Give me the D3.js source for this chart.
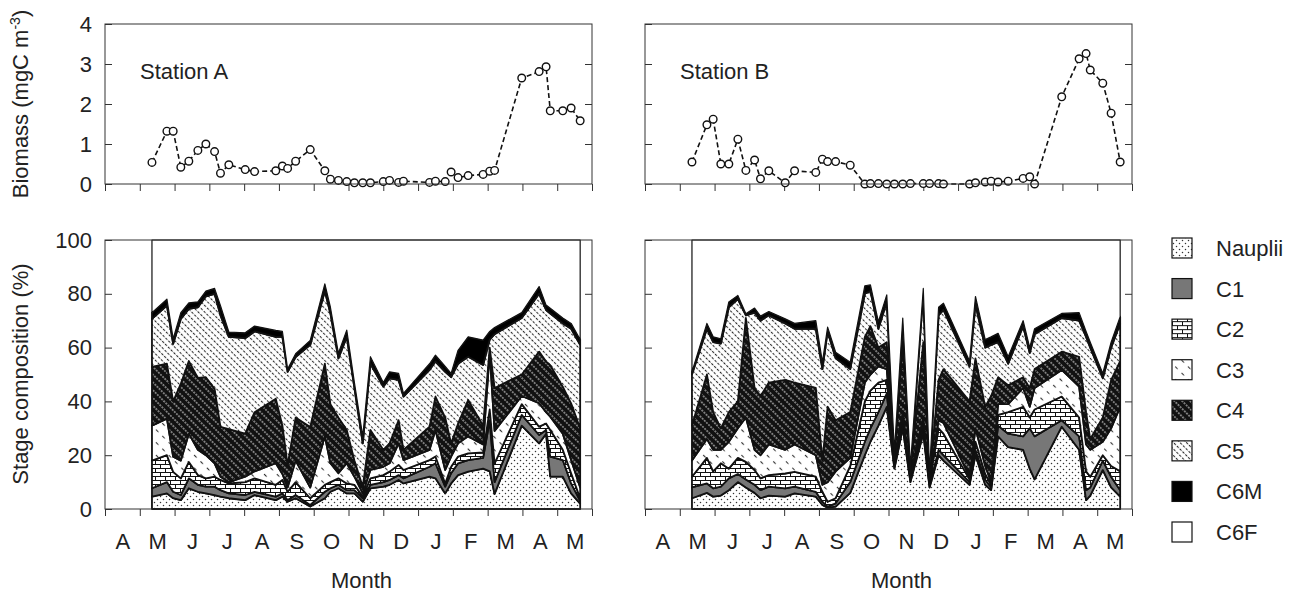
<!DOCTYPE html>
<html>
<head>
<meta charset="utf-8">
<script src="https://cdn.jsdelivr.net/npm/d3@7"></script>
<style>
  body { margin: 0; background: #fff; }
  text { font-family: "Liberation Sans", Arial, sans-serif; fill: #222; }
</style>
</head>
<body>
<div id="chart"></div>
<script>
const W = 1295, H = 596;

const months = ["A", "M", "J", "J", "A", "S", "O", "N", "D", "J", "F", "M", "A", "M"];
const stages = ["Nauplii", "C1", "C2", "C3", "C4", "C5", "C6M", "C6F"];

// sampling dates, in months since 1 April
const sampleMonth = [1.35, 1.78, 1.96, 2.18, 2.41, 2.67, 2.9, 3.15, 3.32, 3.56,
  4.03, 4.3, 4.91, 5.1, 5.25, 5.48, 5.9, 6.32, 6.48, 6.71,
  6.95, 7.17, 7.41, 7.63, 8.0, 8.18, 8.44, 8.58, 9.33, 9.5,
  9.78, 9.95, 10.15, 10.44, 10.87, 11.06, 11.2, 11.98, 12.48, 12.68,
  12.8, 13.16, 13.4, 13.66];

// biomass (mgC m-3)
const biomassA = [0.54, 1.32, 1.32, 0.42, 0.57, 0.84, 1.0, 0.81, 0.27, 0.48,
  0.36, 0.31, 0.33, 0.45, 0.39, 0.57, 0.86, 0.33, 0.12, 0.09,
  0.06, 0.03, 0.03, 0.03, 0.06, 0.09, 0.04, 0.07, 0.04, 0.07,
  0.06, 0.30, 0.16, 0.21, 0.24, 0.32, 0.34, 2.65, 2.81, 2.93,
  1.83, 1.83, 1.9, 1.58];
const biomassB = [0.55, 1.48, 1.62, 0.5, 0.5, 1.12, 0.34, 0.6, 0.13, 0.33,
  0.03, 0.33, 0.29, 0.62, 0.56, 0.56, 0.47, 0.0, 0.01, 0.01,
  0.0, 0.0, 0.0, 0.01, 0.01, 0.01, 0.01, 0.0, 0.0, 0.03,
  0.05, 0.07, 0.05, 0.07, 0.14, 0.18, 0.0, 2.18, 3.13, 3.26,
  2.85, 2.52, 1.77, 0.55];

// stage composition, cumulative % (upper edge of each stage), station A
const aNauplii = [4.6, 5.8, 4, 3.3, 7.7, 6.4, 5.8, 5.2, 4.6, 4, 3.3, 5.2, 3.3, 4.6, 2.7, 4, 0.9, 4, 6.4, 7.7,
  5.8, 5.8, 2.7, 7.7, 8.3, 9, 10.8, 9.5, 12, 11.4, 5.8, 9.5, 12.6, 13.9, 15, 14, 5.6, 31, 24.4, 28, 12, 12, 5.8, 2];
const aC1 = [7.7, 10, 6.4, 5.2, 11.4, 9, 8.3, 8.3, 7, 5.8, 5.2, 6.4, 4.6, 5.8, 3.3, 5.2, 1.5, 6.4, 7.7, 9,
  7, 7, 4, 9, 10, 10.8, 12.6, 11.4, 15.7, 17, 8.3, 13.3, 17, 18.2, 19, 33, 10, 35, 27.5, 29.4, 19.5, 18.2, 9.5, 3];
const aC2 = [18, 20, 13.8, 11.4, 17.5, 12.6, 11.4, 12, 10.8, 9.5, 10, 11.4, 9, 10.8, 6.4, 10, 4, 9, 10, 11.4,
  9.5, 9, 4.6, 11.4, 12.6, 13.9, 16.4, 14.5, 18.2, 19.5, 9.5, 15.7, 19.5, 20.7, 21, 37, 17, 39, 30.6, 31.8, 29.4, 22, 13.3, 4];
const aC3 = [31, 33.6, 19.4, 18, 28, 22, 20, 17, 12, 10, 12, 14, 17, 13, 8, 18, 8, 27, 17, 13.3,
  17, 12, 5.8, 14.5, 15.7, 17, 24.4, 18.2, 22, 29.4, 14.5, 19.5, 24.4, 27, 24, 58, 29, 42, 39.3, 36, 34.3, 28, 18.2, 8];
const aC4 = [52.8, 54, 40, 46.6, 55, 48.7, 49, 44.7, 30.5, 29.7, 28, 36, 41, 31, 16.3, 34, 30.5, 54, 39, 34,
  29.4, 18, 8.3, 29.4, 22, 24.4, 33, 22, 30.6, 41.8, 34, 24.4, 31.8, 40.5, 31, 60, 45, 50, 58.5, 54.8, 53.5, 45.5, 39.3, 30];
const aC5 = [70.7, 75.6, 61.4, 70.7, 74.4, 75, 79, 80, 72, 64, 63.5, 66, 64, 64, 51, 56.5, 61, 81, 72.7, 56,
  64, 45, 24.4, 54, 45.5, 48.6, 48, 41.8, 51.7, 54.8, 51, 49, 54, 56.6, 53.5, 63, 65, 71, 80, 74, 72.7, 69, 67, 61];
const aC6M = [73, 78, 63.3, 73, 76.6, 77, 81, 82, 75.6, 65.8, 65.5, 68, 66.4, 66, 52, 57.7, 62.7, 83.7, 75, 57.9,
  66.5, 47, 27, 56.6, 47, 51, 50.4, 43, 54, 57.2, 53, 50.4, 59, 64, 62.8, 66, 67.5, 73, 82.7, 75.8, 74.6, 71, 69, 63];

// stage composition, cumulative %, station B
const bNauplii = [4, 6, 4.6, 5, 7, 10, 8, 6, 4, 5, 4.6, 5.8, 4.6, 1.5, 0.5, 0.9, 6, 20, 25, 31,
  38, 15, 30, 10, 28, 8, 20, 18, 9, 20, 9, 7, 27, 23, 22, 15, 11, 30.6, 22, 3.3, 5, 14.5, 8, 4.6];
const bC1 = [8, 9.5, 7.7, 8.3, 11.4, 13, 11, 9, 7, 8.3, 7.7, 8.3, 6.4, 2.7, 0.9, 2.1, 10, 25, 30, 36,
  43, 16, 32, 11, 30, 9, 22, 20, 10, 22, 11, 8, 31, 28, 27, 30, 27, 33, 27, 7, 8, 18, 12, 7];
const bC2 = [12, 19, 14, 17, 15, 19, 17.5, 14.5, 11.4, 12.6, 13.2, 13.8, 12, 6.4, 2.7, 4, 16, 40, 44, 47,
  48, 17, 34, 12, 32, 10, 30, 28, 11, 25, 13, 9, 35, 36, 38, 34, 37, 41.8, 34, 14, 12, 20, 16, 14];
const bC3 = [18, 26, 22, 22, 25, 30, 34, 22, 20, 24, 22, 24, 20, 9, 10, 14, 19, 47, 50, 53,
  52, 18, 36, 13, 34, 11, 33, 32, 12, 30, 16, 10, 39, 39, 45, 38, 45, 51.7, 45.5, 24, 22, 25, 30, 38];
const bC4 = [31, 50, 36, 30, 36, 40, 71, 45, 42, 47, 48, 47, 45, 18, 38, 33, 36, 64, 68, 60,
  62, 19.5, 62, 14, 62, 12, 48, 52, 40, 56, 38, 42, 49, 46, 49, 45, 52, 58.5, 56.6, 36, 26, 34, 48, 55];
const bC5 = [50, 67, 62, 61.5, 75, 78, 72, 73, 70, 72, 69, 67, 67, 52, 66, 56, 52, 80, 81, 67,
  77, 20.5, 69, 15, 80, 13, 72, 74, 53, 76, 60, 61, 62, 54, 68, 58, 65, 71, 70, 64, 60, 48.6, 60, 69];
const bC6M = [51, 69, 64, 63.3, 77, 79.4, 72.6, 74.7, 71.7, 73.4, 70.7, 69, 70, 54.6, 67.6, 58.3, 54.6, 83, 83.3, 69.6,
  79.6, 21.5, 71, 16, 82, 14, 75, 76.5, 55, 79, 63, 64, 65.3, 56.6, 70, 60, 67, 72.7, 73, 66, 62, 50.4, 62, 71.5];

const full = sampleMonth.map(() => 100);

const svg = d3.select("#chart").append("svg")
  .attr("width", W).attr("height", H);

// fill patterns
const defs = svg.append("defs");
function pattern(id, w, h, bg, rotate) {
  const p = defs.append("pattern").attr("id", id)
    .attr("patternUnits", "userSpaceOnUse")
    .attr("width", w).attr("height", h);
  if (rotate) p.attr("patternTransform", "rotate(" + rotate + ")");
  p.append("rect").attr("width", w).attr("height", h).attr("fill", bg);
  return p;
}
let p = pattern("pN", 6, 6, "#fff");
p.append("circle").attr("cx", 1.5).attr("cy", 1.5).attr("r", 0.75).attr("fill", "#333");
p.append("circle").attr("cx", 4.5).attr("cy", 4.5).attr("r", 0.75).attr("fill", "#333");

p = pattern("pC2", 10, 8, "#fff");
p.append("path").attr("d", "M0,0.5H10M0,4.5H10M0.5,0V4.5M5.5,4.5V8")
  .attr("stroke", "#111").attr("stroke-width", 1).attr("fill", "none");

p = pattern("pC3", 9, 9, "#fff", 45);
p.append("path").attr("d", "M0,4.5H3.5").attr("stroke", "#333").attr("stroke-width", 1.1);

p = pattern("pC4", 3, 5.5, "#111", 45);
p.append("path").attr("d", "M0,2.75H1.8").attr("stroke", "#fff").attr("stroke-width", 1.1);

p = pattern("pC5", 4, 4.6, "#fff", 45);
p.append("path").attr("d", "M0,2.3H2.5").attr("stroke", "#222").attr("stroke-width", 1.05);

const fills = ["url(#pN)", "#777", "url(#pC2)", "url(#pC3)", "url(#pC4)", "url(#pC5)", "#000", "#fff"];

const PW = 487;
const yBio = d3.scaleLinear().domain([0, 4]).range([184, 24]);
const yPct = d3.scaleLinear().domain([0, 100]).range([509, 240]);

const panels = [
  {x0: 105, label: "Station A", bio: biomassA,
   tops: [aNauplii, aC1, aC2, aC3, aC4, aC5, aC6M, full], yLabels: true},
  {x0: 645, label: "Station B", bio: biomassB,
   tops: [bNauplii, bC1, bC2, bC3, bC4, bC5, bC6M, full], yLabels: false}
];

function styleAxis(g) {
  g.select(".domain").remove();
  g.selectAll(".tick line").attr("stroke", "#333");
  g.selectAll("text").attr("font-size", 22).attr("fill", "#222")
    .attr("font-family", "Liberation Sans, Arial, sans-serif");
}

panels.forEach(pn => {
  const x = d3.scaleLinear().domain([0, 14]).range([pn.x0, pn.x0 + PW]);
  const idx = d3.range(sampleMonth.length);

  // ---- biomass panel
  const leftB = d3.axisLeft(yBio).tickValues([0, 1, 2, 3, 4]).tickSize(-7).tickPadding(13)
    .tickFormat(pn.yLabels ? d3.format("d") : "");
  svg.append("g").attr("transform", `translate(${pn.x0},0)`).call(leftB).call(styleAxis);
  svg.append("g").attr("transform", `translate(${pn.x0 + PW},0)`)
    .call(d3.axisRight(yBio).tickValues([1, 2, 3]).tickSize(-7).tickFormat(""))
    .call(styleAxis);
  svg.append("g").attr("transform", "translate(0,184)")
    .call(d3.axisBottom(x).tickValues(d3.range(15)).tickSize(7).tickFormat(""))
    .call(styleAxis);

  const line = d3.line().x(j => x(sampleMonth[j])).y(j => yBio(pn.bio[j]));
  svg.append("path").attr("d", line(idx))
    .attr("fill", "none").attr("stroke", "#111").attr("stroke-width", 1.6)
    .attr("stroke-dasharray", "5,3");
  svg.append("g").selectAll("circle").data(idx).join("circle")
    .attr("cx", j => x(sampleMonth[j])).attr("cy", j => yBio(pn.bio[j]))
    .attr("r", 3.8).attr("fill", "#fff").attr("stroke", "#111").attr("stroke-width", 1.4);

  svg.append("rect").attr("x", pn.x0).attr("y", 24).attr("width", PW).attr("height", 160)
    .attr("fill", "none").attr("stroke", "#333").attr("stroke-width", 1);

  svg.append("text").attr("x", pn.x0 + 35).attr("y", 79)
    .attr("font-size", 22).text(pn.label);

  // ---- stage composition panel
  pn.tops.forEach((top, i) => {
    const below = i === 0 ? null : pn.tops[i - 1];
    const area = d3.area()
      .x(j => x(sampleMonth[j]))
      .y0(j => yPct(below ? below[j] : 0))
      .y1(j => yPct(top[j]));
    svg.append("path").attr("d", area(idx))
      .attr("fill", fills[i]).attr("stroke", "#111")
      .attr("stroke-width", i === 7 ? 1.2 : 1.8).attr("stroke-linejoin", "round");
  });

  const leftS = d3.axisLeft(yPct).tickValues([0, 20, 40, 60, 80, 100]).tickSize(-7).tickPadding(13);
  if (!pn.yLabels) leftS.tickFormat("");
  svg.append("g").attr("transform", `translate(${pn.x0},0)`).call(leftS).call(styleAxis);
  svg.append("g").attr("transform", `translate(${pn.x0 + PW},0)`)
    .call(d3.axisRight(yPct).tickValues([20, 40, 60, 80]).tickSize(-7).tickFormat(""))
    .call(styleAxis);
  svg.append("g").attr("transform", "translate(0,509)")
    .call(d3.axisBottom(x).tickValues(d3.range(15)).tickSize(7).tickFormat(""))
    .call(styleAxis);
  svg.append("g").attr("transform", "translate(0,509)")
    .call(d3.axisBottom(x).tickValues(d3.range(14).map(i => i + 0.5))
      .tickSize(0).tickPadding(24).tickFormat((d, i) => months[i]))
    .call(styleAxis);

  svg.append("rect").attr("x", pn.x0).attr("y", 240).attr("width", PW).attr("height", 269)
    .attr("fill", "none").attr("stroke", "#333").attr("stroke-width", 1);

  svg.append("text").attr("x", pn.x0 + PW / 2 + 13).attr("y", 588)
    .attr("text-anchor", "middle").attr("font-size", 22).text("Month");
});

// y titles
const t1 = svg.append("text").attr("transform", "translate(28,104) rotate(-90)")
  .attr("text-anchor", "middle").attr("font-size", 22);
t1.append("tspan").text("Biomass (mgC m");
t1.append("tspan").attr("font-size", 14).attr("dy", -8).text("-3");
t1.append("tspan").attr("dy", 8).text(")");

svg.append("text").attr("transform", "translate(28,374) rotate(-90)")
  .attr("text-anchor", "middle").attr("font-size", 22).text("Stage composition (%)");

// legend
const legY = d3.scaleLinear().domain([0, 7]).range([248, 532]);
const leg = svg.append("g").selectAll("g").data(stages).join("g")
  .attr("transform", (d, i) => `translate(1172,${legY(i)})`);
leg.append("rect").attr("x", 0).attr("y", -10).attr("width", 20).attr("height", 20)
  .attr("fill", (d, i) => fills[i]).attr("stroke", "#111").attr("stroke-width", 1.2);
leg.append("text").attr("x", 44).attr("y", 8).attr("font-size", 22).text(d => d);
</script>
</body>
</html>
